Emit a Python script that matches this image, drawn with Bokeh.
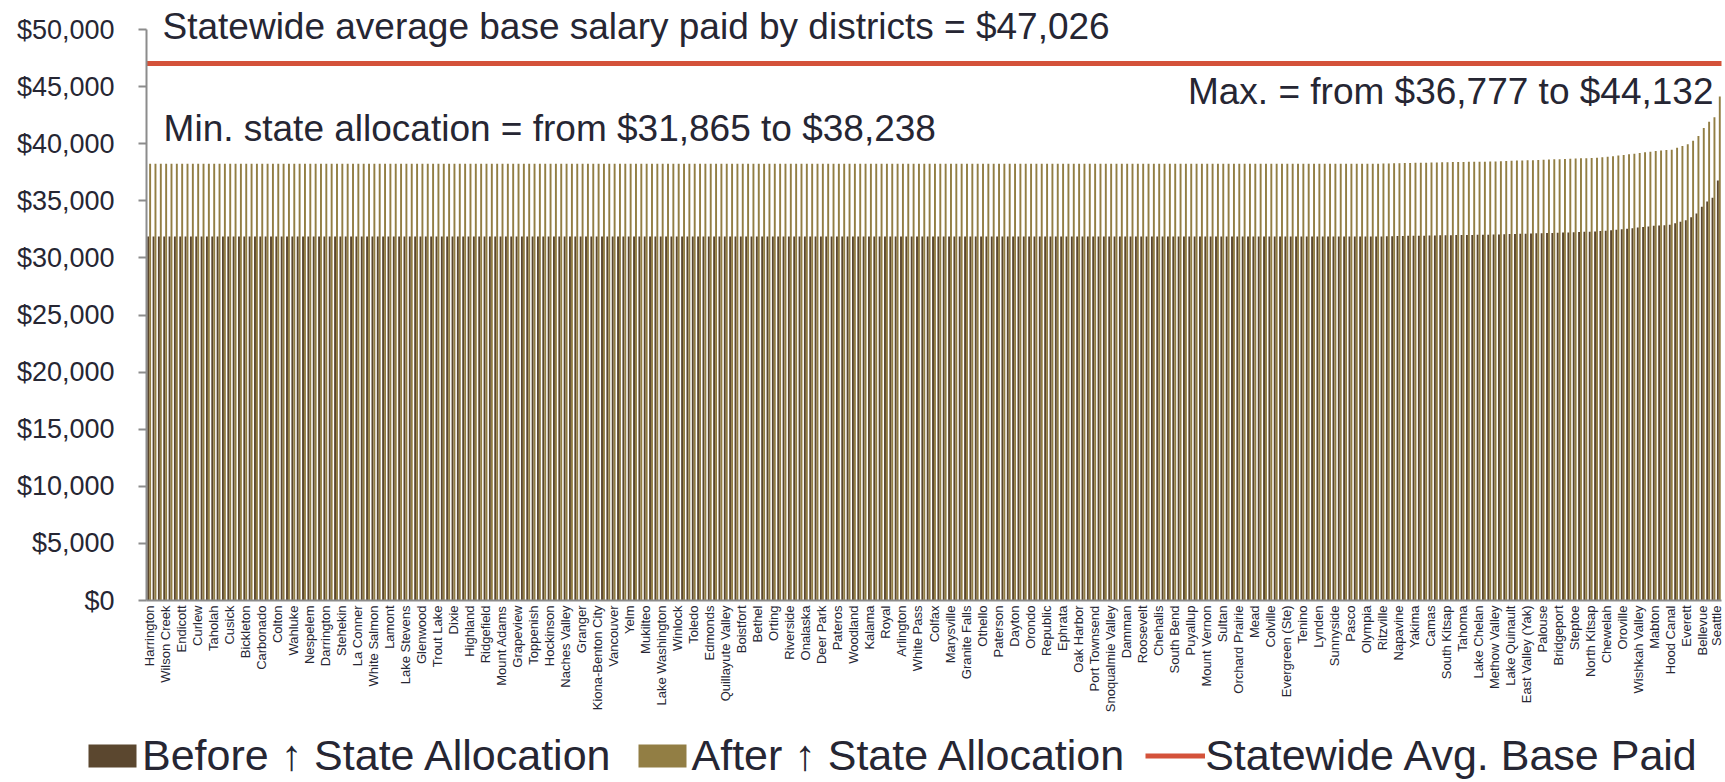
import math
from bokeh.plotting import figure
from bokeh.layouts import column
from bokeh.models import (ColumnDataSource, Range1d, FixedTicker, NumeralTickFormatter,
                          Legend, LegendItem, Label)
from bokeh.transform import dodge
from bokeh.embed import file_html
from bokeh.resources import INLINE

# ---------------- data ----------------
labeled_districts = [
    "Harrington", "Wilson Creek", "Endicott", "Curlew", "Taholah", "Cusick", "Bickleton",
    "Carbonado", "Colton", "Wahluke", "Nespelem", "Darrington", "Stehekin", "La Conner",
    "White Salmon", "Lamont", "Lake Stevens", "Glenwood", "Trout Lake", "Dixie", "Highland",
    "Ridgefield", "Mount Adams", "Grapeview", "Toppenish", "Hockinson", "Naches Valley",
    "Granger", "Kiona-Benton City", "Vancouver", "Yelm", "Mukilteo", "Lake Washington",
    "Winlock", "Toledo", "Edmonds", "Quillayute Valley", "Boistfort", "Bethel", "Orting",
    "Riverside", "Onalaska", "Deer Park", "Pateros", "Woodland", "Kalama", "Royal",
    "Arlington", "White Pass", "Colfax", "Marysville", "Granite Falls", "Othello", "Paterson",
    "Dayton", "Orondo", "Republic", "Ephrata", "Oak Harbor", "Port Townsend",
    "Snoqualmie Valley", "Damman", "Roosevelt", "Chehalis", "South Bend", "Puyallup",
    "Mount Vernon", "Sultan", "Orchard Prairie", "Mead", "Colville", "Evergreen (Ste)",
    "Tenino", "Lynden", "Sunnyside", "Pasco", "Olympia", "Ritzville", "Napavine", "Yakima",
    "Camas", "South Kitsap", "Tahoma", "Lake Chelan", "Methow Valley", "Lake Quinault",
    "East Valley (Yak)", "Palouse", "Bridgeport", "Steptoe", "North Kitsap", "Chewelah",
    "Oroville", "Wishkah Valley", "Mabton", "Hood Canal", "Everett", "Bellevue", "Seattle",
]
label_step = 3          # one district name shown for every third district

flat_count = 231        # districts sitting at the minimum allocation
before_tail = [
    31880, 31890, 31900, 31910, 31920, 31930, 31935, 31940, 31950, 31960,
    31965, 31975, 31985, 31990, 32000, 32005, 32010, 32015, 32020, 32025,
    32030, 32040, 32055, 32070, 32085, 32100, 32110, 32120, 32135, 32150,
    32160, 32175, 32190, 32205, 32220, 32235, 32250, 32265, 32280, 32295,
    32305, 32345, 32385, 32425, 32470, 32515, 32556, 32605, 32655, 32705,
    32755, 32808, 32840, 32870, 32898, 33029, 33160, 33291, 33553, 33894,
    34471, 34942, 35257, 36777,
]
after_tail = [
    38256, 38268, 38280, 38292, 38304, 38316, 38322, 38328, 38340, 38352,
    38358, 38370, 38382, 38388, 38400, 38406, 38412, 38418, 38424, 38430,
    38436, 38448, 38466, 38484, 38502, 38520, 38532, 38544, 38562, 38580,
    38592, 38610, 38628, 38646, 38664, 38682, 38700, 38718, 38736, 38754,
    38766, 38814, 38862, 38910, 38964, 39018, 39067, 39126, 39186, 39246,
    39306, 39370, 39408, 39444, 39478, 39635, 39792, 39949, 40264, 40673,
    41365, 41930, 42308, 44132,
]
before_alloc = [31865] * flat_count + before_tail
after_alloc = [38238] * flat_count + after_tail
statewide_avg = 47026
y_ticks = [0, 5000, 10000, 15000, 20000, 25000, 30000, 35000, 40000, 45000, 50000]

title_text = "Statewide average base salary paid by districts = $47,026"
min_text = "Min. state allocation = from $31,865 to $38,238"
max_text = "Max. = from $36,777 to $44,132"
legend_labels = ["Before \u2191 State Allocation", "After \u2191 State Allocation",
                 "Statewide Avg. Base Paid"]

# ---------------- styles ----------------
FONT = "Liberation Sans"
TXT = "#262633"
C_BEFORE = "#5b472f"
C_AFTER = "#927e44"
C_AVG = "#d4523a"
AXIS = "#8c8c8c"

n = len(before_alloc)
src = ColumnDataSource(dict(idx=list(range(n)), before=before_alloc, after=after_alloc))

# frame spans above the axis top so that the heading text is not clipped
p = figure(frame_width=1575, frame_height=600,
           x_range=Range1d(-0.5, n - 0.5), y_range=Range1d(0, 52540),
           output_backend="svg", toolbar_location=None,
           min_border_left=146, min_border_right=2, min_border_top=0, min_border_bottom=124)
p.outline_line_color = None
p.xgrid.grid_line_color = None
p.ygrid.grid_line_color = None
p.background_fill_color = "white"

r_before = p.vbar(x=dodge("idx", -0.18, range=p.x_range), top="before", width=0.36,
                  source=src, fill_color=C_BEFORE, line_color=None)
r_after = p.vbar(x=dodge("idx", 0.18, range=p.x_range), top="after", width=0.36,
                 source=src, fill_color=C_AFTER, line_color=None)
r_avg = p.line(x=[-0.5, n - 0.5], y=[statewide_avg, statewide_avg], line_color=C_AVG,
               line_width=5, line_cap="round")

# x axis
tick_idx = list(range(0, n, label_step))
p.xaxis.ticker = FixedTicker(ticks=tick_idx)
p.xaxis.major_label_overrides = {i: name for i, name in zip(tick_idx, labeled_districts)}
p.xaxis.major_label_orientation = math.pi / 2
p.xaxis.major_label_text_font = FONT
p.xaxis.major_label_text_font_size = "13px"
p.xaxis.major_label_text_color = TXT
p.xaxis.major_label_standoff = 5
p.xaxis.major_tick_line_color = None
p.xaxis.major_tick_out = 0
p.xaxis.minor_tick_line_color = None
p.xaxis.axis_line_color = AXIS
p.xaxis.axis_line_width = 2

# y axis
p.yaxis.ticker = FixedTicker(ticks=y_ticks)
p.yaxis.bounds = (0, 50000)
p.yaxis.formatter = NumeralTickFormatter(format="$0,0")
p.yaxis.major_label_text_font = FONT
p.yaxis.major_label_text_font_size = "27px"
p.yaxis.major_label_text_color = TXT
p.yaxis.major_label_standoff = 24
p.yaxis.major_tick_out = 8
p.yaxis.major_tick_in = 0
p.yaxis.minor_tick_line_color = None
p.yaxis.axis_line_color = AXIS
p.yaxis.major_tick_line_color = AXIS
p.yaxis.axis_line_width = 2
p.yaxis.major_tick_line_width = 2

# annotations
for txt, x, y, align in [(title_text, 2.5, 50300, "left"),
                         (min_text, 2.7, 41300, "left"),
                         (max_text, 293.0, 44600, "right")]:
    p.add_layout(Label(x=x, y=y, text=txt, text_font=FONT, text_font_size="37px",
                       text_color=TXT, text_align=align, text_baseline="alphabetic"))

# legend strip beneath the chart (renderers styled like the chart's, kept out of view)
lg = figure(width=1723, height=56, x_range=Range1d(0, 1), y_range=Range1d(0, 1),
            output_backend="svg", toolbar_location=None, min_border=0,
            min_border_left=0, min_border_right=0, min_border_top=0, min_border_bottom=0,
            x_axis_type=None, y_axis_type=None)
if "frame_align" in lg.properties():
    lg.frame_align = False
lg.outline_line_color = None
lg.xgrid.grid_line_color = None
lg.ygrid.grid_line_color = None
g_before = lg.vbar(x=[5], top=[5], bottom=[4], width=0.1, fill_color=C_BEFORE, line_color=None)
g_after = lg.vbar(x=[5], top=[5], bottom=[4], width=0.1, fill_color=C_AFTER, line_color=None)
g_avg = lg.line(x=[5, 6], y=[5, 5], line_color=C_AVG, line_width=5)

legend = Legend(items=[LegendItem(label=legend_labels[0], renderers=[g_before]),
                       LegendItem(label=legend_labels[1], renderers=[g_after]),
                       LegendItem(label=legend_labels[2], renderers=[g_avg])],
                orientation="horizontal", location=(82, 0),
                label_text_font=FONT, label_text_font_size="43px", label_text_color=TXT,
                glyph_width=60, glyph_height=29, label_standoff=0, spacing=21,
                padding=0, margin=0, border_line_color=None, background_fill_alpha=0)
lg.add_layout(legend, "center")

open("out.html", "w").write(file_html(column(p, lg), INLINE))
